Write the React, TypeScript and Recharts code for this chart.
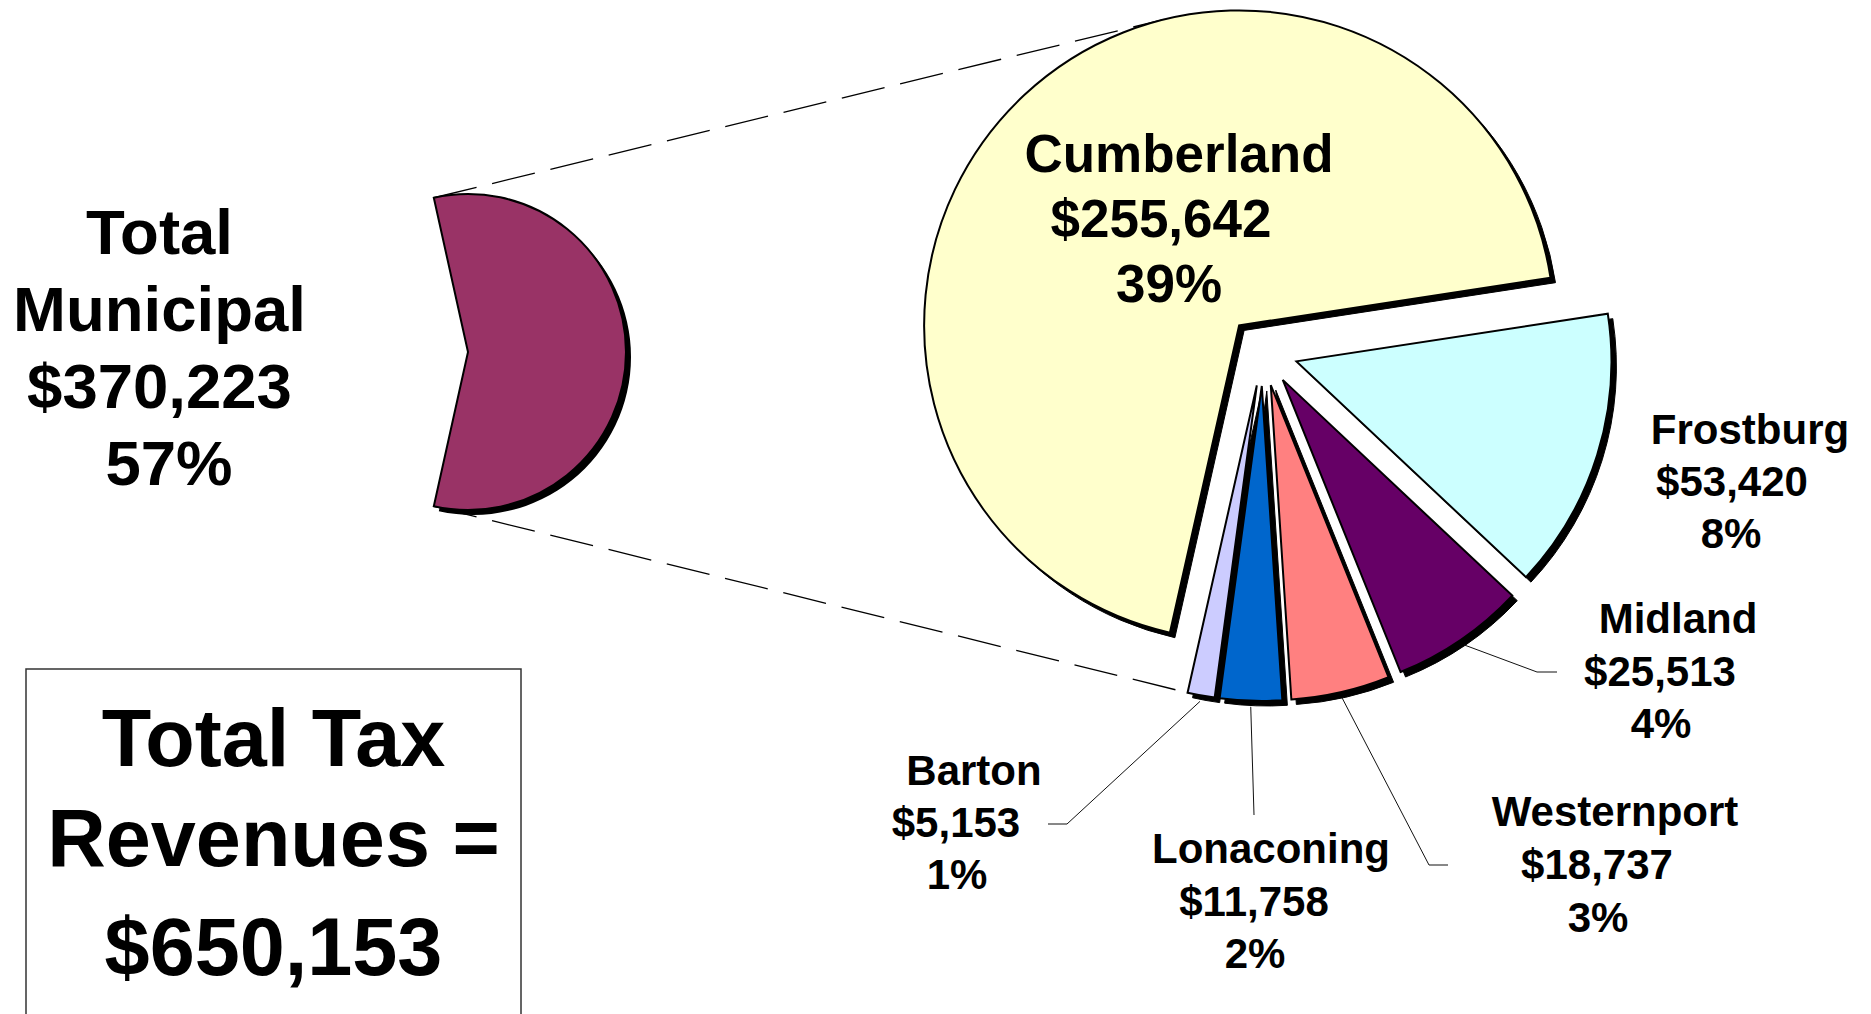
import React from 'react';
import { PieChart, Pie, Cell, Sector, Customized } from 'recharts';

// ---------------- data ----------------
const municipalities = ['Cumberland', 'Frostburg', 'Midland', 'Westernport', 'Lonaconing', 'Barton'];
const municipalRevenue = [255642, 53420, 25513, 18737, 11758, 5153];
const overviewCategories = ['Total Municipal', 'Other Revenues'];
const totalTaxRevenue = 650153;
const boxTitleLines = ['Total Tax', 'Revenues ='];

const municipalTotal = municipalRevenue.reduce((s, v) => s + v, 0);
const overviewData = overviewCategories.map((name, i) => ({
  name,
  value: i === 0 ? municipalTotal : totalTaxRevenue - municipalTotal,
}));
const detailData = municipalities.map((name, i) => ({ name, value: municipalRevenue[i] }));

// ---------------- layout / style ----------------
const WIDTH = 1871;
const HEIGHT = 1014;
const FONT = '"Liberation Sans", Arial, Helvetica, sans-serif';
const LEFT_PIE = { cx: 468, cy: 352, r: 158 };
const RIGHT_PIE = { cx: 1263, cy: 351, r: 315, explode: 35, startAngle: 257.3 };
const SHADOW_OFFSET = 5;
const SLICE_COLORS = ['#FFFFCC', '#CCFFFF', '#660066', '#FF8080', '#0066CC', '#CCCCFF'];
const MUNICIPAL_COLOR = '#993366';

const LEFT_LABEL = { size: 63.5, lh: 77, y: 254, xs: [159.5, 159.5, 159.5, 169] };
const LABEL_LAYOUT: { size: number; lh: number; y: number; xs: number[]; leader: number[][] | null }[] = [
  { size: 53, lh: 65, y: 172, xs: [1179, 1161, 1169], leader: null },
  { size: 42, lh: 52, y: 444, xs: [1750, 1732, 1731], leader: null },
  { size: 42, lh: 52.5, y: 633, xs: [1678, 1660, 1661], leader: [[1537, 672], [1557, 672]] },
  { size: 42, lh: 53, y: 826, xs: [1615, 1597, 1598], leader: [[1429, 865], [1448, 865]] },
  { size: 42, lh: 52.5, y: 863, xs: [1271, 1254, 1255], leader: [[1254, 815]] },
  { size: 42, lh: 52, y: 785, xs: [974, 956, 957], leader: [[1067, 824], [1048, 824]] },
];
const BOX = { x: 26, y: 669, w: 495, h: 420, cx: 273.5, size: 81, ys: [766, 866, 975] };

const RAD = Math.PI / 180;
const polar = (cx: number, cy: number, r: number, deg: number) => ({
  x: cx + r * Math.cos(deg * RAD),
  y: cy - r * Math.sin(deg * RAD),
});
const fmtMoney = (v: number) => '$' + v.toLocaleString('en-US');
const fmtPct = (v: number) => Math.round((v / totalTaxRevenue) * 100) + '%';

const leftHalfSweep = (180 * municipalTotal) / totalTaxRevenue;

const sliceAngles = (() => {
  let a = RIGHT_PIE.startAngle;
  return municipalRevenue.map((v) => {
    const s = a;
    a -= (360 * v) / municipalTotal;
    return { start: s, end: a, mid: (s + a) / 2 };
  });
})();

const textStyle = { fontFamily: FONT, fontWeight: 700 as const, fill: '#000' };

// ---------------- renderers ----------------
const renderLeftLabel = (p: any) => {
  if (p.index !== 0) return null;
  const lines = [...overviewCategories[0].split(' '), fmtMoney(municipalTotal), fmtPct(municipalTotal)];
  return (
    <g>
      {lines.map((t, k) => (
        <text key={k} x={LEFT_LABEL.xs[k]} y={LEFT_LABEL.y + k * LEFT_LABEL.lh} textAnchor="middle" fontSize={LEFT_LABEL.size} {...textStyle}>
          {t}
        </text>
      ))}
    </g>
  );
};

const renderRightShadow = (p: any) => {
  const mid = (p.startAngle + p.endAngle) / 2;
  const c = polar(p.cx, p.cy, RIGHT_PIE.explode, mid);
  return (
    <Sector
      cx={c.x + SHADOW_OFFSET}
      cy={c.y + SHADOW_OFFSET}
      innerRadius={0}
      outerRadius={p.outerRadius}
      startAngle={p.startAngle}
      endAngle={p.endAngle}
      fill="#000"
      stroke="#000"
      strokeWidth={1}
    />
  );
};

const renderRightSlice = (p: any) => {
  const i = p.index;
  const mid = (p.startAngle + p.endAngle) / 2;
  const c = polar(p.cx, p.cy, RIGHT_PIE.explode, mid);
  const L = LABEL_LAYOUT[i];
  const value = municipalRevenue[i];
  const lines = [municipalities[i], fmtMoney(value), fmtPct(value)];
  let leader = null;
  if (L.leader) {
    const s = polar(c.x, c.y, p.outerRadius + 6, mid);
    const pts = [[s.x, s.y], ...L.leader].map((q) => q.join(',')).join(' ');
    leader = <polyline points={pts} fill="none" stroke="#111" strokeWidth={1} />;
  }
  return (
    <g>
      <Sector
        cx={c.x}
        cy={c.y}
        innerRadius={0}
        outerRadius={p.outerRadius}
        startAngle={p.startAngle}
        endAngle={p.endAngle}
        fill={SLICE_COLORS[i]}
        stroke="#000"
        strokeWidth={2}
        strokeLinejoin="miter"
      />
      {leader}
      {lines.map((t, k) => (
        <text key={k} x={L.xs[k]} y={L.y + k * L.lh} textAnchor="middle" fontSize={L.size} {...textStyle}>
          {t}
        </text>
      ))}
    </g>
  );
};

const Connectors = () => {
  const pTop = polar(LEFT_PIE.cx, LEFT_PIE.cy, LEFT_PIE.r, leftHalfSweep);
  const pBot = polar(LEFT_PIE.cx, LEFT_PIE.cy, LEFT_PIE.r, -leftHalfSweep);
  const first = sliceAngles[0];
  const q = polar(RIGHT_PIE.cx, RIGHT_PIE.cy, RIGHT_PIE.explode, first.mid);
  const dx = pTop.x - q.x;
  const dy = pTop.y - q.y;
  const dist = Math.hypot(dx, dy);
  const phi = Math.atan2(dy, dx);
  const alpha = Math.acos(RIGHT_PIE.r / dist);
  const cands = [phi + alpha, phi - alpha].map((t) => ({
    x: q.x + RIGHT_PIE.r * Math.cos(t),
    y: q.y + RIGHT_PIE.r * Math.sin(t),
  }));
  const tTop = cands[0].y < cands[1].y ? cands[0] : cands[1];
  const last = sliceAngles[sliceAngles.length - 1];
  const lc = polar(RIGHT_PIE.cx, RIGHT_PIE.cy, RIGHT_PIE.explode, last.mid);
  const tBot = polar(lc.x, lc.y, RIGHT_PIE.r, last.end);
  return (
    <g>
      <line x1={pTop.x} y1={pTop.y} x2={tTop.x} y2={tTop.y} stroke="#000" strokeWidth={1.3} strokeDasharray="44 16" />
      <line x1={pBot.x} y1={pBot.y} x2={tBot.x} y2={tBot.y} stroke="#000" strokeWidth={1.3} strokeDasharray="44 16" />
    </g>
  );
};

const TotalBox = () => (
  <g>
    <rect x={BOX.x} y={BOX.y} width={BOX.w} height={BOX.h} fill="#fff" stroke="#333" strokeWidth={1.5} />
    {[...boxTitleLines, fmtMoney(totalTaxRevenue)].map((t, k) => (
      <text key={k} x={BOX.cx} y={BOX.ys[k]} textAnchor="middle" fontSize={BOX.size} {...textStyle}>
        {t}
      </text>
    ))}
  </g>
);

export default function App() {
  return (
    <div style={{ position: 'absolute', left: 0, top: 0, width: WIDTH, height: HEIGHT, background: '#fff' }}>
      <PieChart width={WIDTH} height={HEIGHT} margin={{ top: 0, right: 0, bottom: 0, left: 0 }}>
        <Customized component={Connectors} />
        <Customized component={TotalBox} />
        {/* left pie: shadow then slice */}
        <Pie
          data={overviewData}
          dataKey="value"
          nameKey="name"
          cx={LEFT_PIE.cx + SHADOW_OFFSET}
          cy={LEFT_PIE.cy + SHADOW_OFFSET}
          outerRadius={LEFT_PIE.r}
          startAngle={leftHalfSweep}
          endAngle={leftHalfSweep - 360}
          isAnimationActive={false}
        >
          {overviewData.map((d, i) => (
            <Cell key={d.name} fill={i === 0 ? '#000' : 'none'} stroke="none" />
          ))}
        </Pie>
        <Pie
          data={overviewData}
          dataKey="value"
          nameKey="name"
          cx={LEFT_PIE.cx}
          cy={LEFT_PIE.cy}
          outerRadius={LEFT_PIE.r}
          startAngle={leftHalfSweep}
          endAngle={leftHalfSweep - 360}
          isAnimationActive={false}
          label={renderLeftLabel}
          labelLine={false}
        >
          {overviewData.map((d, i) => (
            <Cell
              key={d.name}
              fill={i === 0 ? MUNICIPAL_COLOR : 'none'}
              stroke={i === 0 ? '#000' : 'none'}
              strokeWidth={2}
            />
          ))}
        </Pie>
        {/* right pie: exploded slices with shadows */}
        <Pie
          data={detailData}
          dataKey="value"
          nameKey="name"
          cx={RIGHT_PIE.cx}
          cy={RIGHT_PIE.cy}
          outerRadius={RIGHT_PIE.r}
          startAngle={RIGHT_PIE.startAngle}
          endAngle={RIGHT_PIE.startAngle - 360}
          isAnimationActive={false}
          label={renderRightShadow}
          labelLine={false}
        >
          {detailData.map((d) => (
            <Cell key={d.name} fill="none" stroke="none" />
          ))}
        </Pie>
        <Pie
          data={detailData}
          dataKey="value"
          nameKey="name"
          cx={RIGHT_PIE.cx}
          cy={RIGHT_PIE.cy}
          outerRadius={RIGHT_PIE.r}
          startAngle={RIGHT_PIE.startAngle}
          endAngle={RIGHT_PIE.startAngle - 360}
          isAnimationActive={false}
          label={renderRightSlice}
          labelLine={false}
        >
          {detailData.map((d) => (
            <Cell key={d.name} fill="none" stroke="none" />
          ))}
        </Pie>
      </PieChart>
    </div>
  );
}
